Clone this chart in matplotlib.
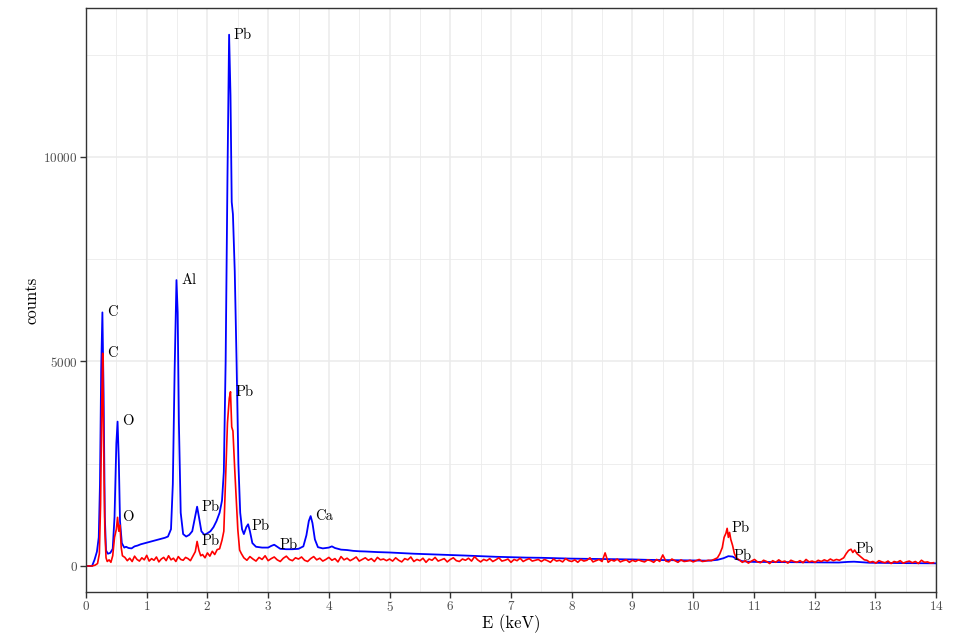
import numpy as np
import matplotlib
matplotlib.use("Agg")
import matplotlib.pyplot as plt
from matplotlib.ticker import MultipleLocator

# ---------------- data ----------------
# blue spectrum (energy keV, counts)
blue_E = [0.00, 0.10, 0.14, 0.18, 0.21, 0.23, 0.25, 0.27, 0.29, 0.31, 0.33, 0.36, 0.40,
          0.44, 0.47, 0.50, 0.52, 0.54, 0.56, 0.59, 0.63, 0.66, 0.70, 0.75, 0.80, 0.85,
          0.90, 0.95, 1.00, 1.05, 1.10, 1.15, 1.20, 1.25, 1.30, 1.35, 1.40, 1.43, 1.46,
          1.49, 1.51, 1.53, 1.56, 1.60, 1.65, 1.70, 1.75, 1.79, 1.83, 1.86, 1.90, 1.95,
          2.00, 2.05, 2.10, 2.15, 2.20, 2.24, 2.27, 2.30, 2.33, 2.357, 2.38, 2.40, 2.42,
          2.45, 2.48, 2.51, 2.54, 2.57, 2.60, 2.64, 2.67, 2.70, 2.74, 2.80, 2.90, 3.00,
          3.05, 3.10, 3.15, 3.20, 3.30, 3.40, 3.50, 3.58, 3.63, 3.67, 3.70, 3.73, 3.77,
          3.82, 3.90, 4.00, 4.05, 4.10, 4.20, 4.30, 4.40, 4.50, 4.60, 4.80, 5.00, 5.20,
          5.40, 5.60, 5.80, 6.00, 6.25, 6.50, 6.75, 7.00, 7.25, 7.50, 7.75, 8.00, 8.25,
          8.50, 8.75, 9.00, 9.25, 9.50, 9.75, 10.00, 10.25, 10.40, 10.50, 10.58, 10.65,
          10.72, 10.80, 10.90, 11.00, 11.50, 12.00, 12.40, 12.55, 12.65, 12.75, 12.90,
          13.50, 14.00]
blue_counts = [0, 0, 150, 350, 700, 2000, 4800, 6200, 4200, 1200, 380, 300, 320,
               420, 1200, 3000, 3530, 2600, 1100, 560, 450, 470, 440, 430, 480, 500,
               530, 550, 570, 590, 610, 630, 650, 670, 690, 720, 900, 2000, 4800,
               6990, 6200, 3500, 1300, 780, 720, 760, 850, 1150, 1450, 1200, 850, 760,
               800, 850, 950, 1100, 1300, 1600, 2300, 5000, 9500, 12990, 11500, 8900, 8600,
               7200, 5000, 2500, 1300, 900, 780, 950, 1020, 850, 560, 470, 450, 450,
               490, 520, 470, 420, 410, 410, 420, 480, 750, 1100, 1220, 1050, 650,
               460, 430, 450, 480, 440, 400, 390, 370, 360, 355, 340, 330, 315,
               300, 290, 280, 270, 255, 240, 225, 215, 205, 200, 190, 180, 175,
               170, 165, 160, 150, 145, 140, 135, 130, 150, 190, 240, 230,
               170, 120, 105, 100, 95, 90, 85, 100, 105, 95, 80,
               70, 65]

# red spectrum: peak regions as explicit (E, counts) pairs
red_peak1_E = [0.00, 0.10, 0.15, 0.19, 0.22, 0.24, 0.26, 0.275, 0.29, 0.31, 0.33, 0.35,
               0.38, 0.41, 0.44, 0.47, 0.50, 0.52, 0.54, 0.56, 0.58, 0.60]
red_peak1_counts = [0, 0, 20, 60, 300, 1500, 4000, 5200, 3000, 900, 200, 110,
                    150, 90, 250, 700, 900, 1190, 850, 1000, 450, 250]
# background 0.64 keV onwards, 0.04 keV channels
red_bg1_start, red_bg1_step = 0.64, 0.04
red_bg1_counts = [210, 130, 190, 110, 240, 160, 120, 200, 150, 260, 120, 180, 140, 220,
                  100, 170, 210, 130, 250, 150, 190, 110, 230, 160, 140, 210, 180, 130]
red_peak2_E = [1.80, 1.83, 1.86, 1.89]
red_peak2_counts = [350, 600, 380, 250]
red_bg2_start, red_bg2_step = 1.92, 0.04
red_bg2_counts = [280, 200, 320, 240, 360, 280, 400]
red_peak3_E = [2.20, 2.24, 2.27, 2.30, 2.33, 2.36, 2.38, 2.40, 2.42, 2.45, 2.48, 2.50,
               2.53, 2.56]
red_peak3_counts = [420, 630, 850, 2200, 3500, 4100, 4260, 3400, 3300, 2350, 1500, 900,
                    390, 300]
red_bg3_start, red_bg3_step = 2.60, 0.05
red_bg3_counts = [200, 140, 230, 170, 120, 210, 160, 250, 130, 180, 220, 150, 110, 190,
                  240, 160, 130, 200, 170, 220, 140, 110, 180, 230, 150, 190, 120, 160,
                  210, 140, 180, 100, 230, 150, 190, 130, 170, 220, 120, 160, 200, 140,
                  180, 110, 210, 150, 170, 130,
                  170, 120, 200, 140, 100, 180, 150, 220, 110, 160, 130, 190, 90, 170,
                  140, 210, 120, 150, 180, 100, 160, 200, 130, 110, 170, 140, 190, 120,
                  230, 150, 100, 160, 130, 180, 110, 150, 200, 120, 140, 170, 90, 160,
                  130, 190, 110, 150, 180, 120, 140, 160,
                  110, 160, 130, 90, 170, 120, 140, 100, 180, 130, 110, 150, 90, 160,
                  120, 140, 200, 100, 130, 160, 110, 320, 90, 150, 120, 170, 100, 130,
                  150, 90, 140, 110, 150, 120, 100, 150, 130, 90, 160, 110, 270, 120,
                  100, 170, 130, 90, 150, 110, 120, 140, 100, 130, 160, 110, 120, 140,
                  130]
red_peak4_E = [10.40, 10.44, 10.48, 10.51, 10.54, 10.56, 10.58, 10.60, 10.62, 10.65,
               10.68, 10.72]
red_peak4_counts = [200, 300, 450, 700, 800, 920, 700, 820, 650, 500, 300, 180]
red_bg4_start, red_bg4_step = 10.76, 0.05
red_bg4_counts = [150, 90, 130, 70, 120, 160, 100, 80, 140, 110, 60, 130, 90, 150, 100,
                  120, 70, 140, 110, 90, 130, 80, 160, 100, 120, 90, 140, 110, 150, 120,
                  170, 130, 160, 140]
red_peak5_E = [12.48, 12.52, 12.56, 12.60, 12.63, 12.66, 12.70, 12.74, 12.78, 12.82]
red_peak5_counts = [200, 300, 380, 410, 330, 390, 300, 250, 200, 150]
red_bg5_start, red_bg5_step = 12.86, 0.05
red_bg5_counts = [140, 90, 110, 70, 130, 100, 80, 120, 60, 110, 90, 130, 70, 100, 120,
                  80, 110, 60, 140, 90, 100, 70, 80]

# peak labels
blue_lab_E = [0.27, 0.52, 1.49, 1.83, 2.357, 2.65, 3.10, 3.70, 10.58]
blue_lab_counts = [6200, 3530, 6990, 1450, 12990, 980, 520, 1220, 230]
blue_lab_text = ["C", "O", "Al", "Pb", "Pb", "Pb", "Pb", "Ca", "Pb"]
red_lab_E = [0.275, 0.52, 1.83, 2.38, 10.56, 12.60]
red_lab_counts = [5200, 1190, 600, 4260, 920, 400]
red_lab_text = ["C", "O", "Pb", "Pb", "Pb", "Pb"]

# ---------------- assemble red ----------------
def channels(start, step, vals):
    return list(start + step * np.arange(len(vals)))

red_E = (red_peak1_E + channels(red_bg1_start, red_bg1_step, red_bg1_counts)
         + red_peak2_E + channels(red_bg2_start, red_bg2_step, red_bg2_counts)
         + red_peak3_E + channels(red_bg3_start, red_bg3_step, red_bg3_counts)
         + red_peak4_E + channels(red_bg4_start, red_bg4_step, red_bg4_counts)
         + red_peak5_E + channels(red_bg5_start, red_bg5_step, red_bg5_counts))
red_counts = (red_peak1_counts + red_bg1_counts + red_peak2_counts + red_bg2_counts
              + red_peak3_counts + red_bg3_counts + red_peak4_counts + red_bg4_counts
              + red_peak5_counts + red_bg5_counts)
order = np.argsort(red_E, kind="stable")
red_E = np.array(red_E)[order]
red_counts = np.array(red_counts)[order]

# ---------------- plot ----------------
plt.rcParams['font.family'] = ['cmr10', 'DejaVu Serif']
plt.rcParams['axes.formatter.use_mathtext'] = True

fig = plt.figure(figsize=(9.6, 6.4), dpi=100)
ax = fig.add_axes([86 / 960, 1 - 592 / 640, (936 - 86) / 960, (592 - 8) / 640])

grid_col = "#EBEBEB"
ax.set_xlim(0, 14)
ax.set_ylim(-636, 13643)
ax.xaxis.set_major_locator(MultipleLocator(1))
ax.xaxis.set_minor_locator(MultipleLocator(0.5))
ax.yaxis.set_major_locator(MultipleLocator(5000))
ax.yaxis.set_minor_locator(MultipleLocator(2500))
ax.grid(True, which="major", color=grid_col, linewidth=1.1)
ax.grid(True, which="minor", color=grid_col, linewidth=0.6)
ax.set_axisbelow(True)
ax.tick_params(which="minor", length=0)
ax.tick_params(which="major", length=4, width=1, color="#333333",
               labelsize=9.5, labelcolor="#4D4D4D", pad=2)
for s in ax.spines.values():
    s.set_color("#333333")
    s.set_linewidth(1.0)

ax.plot(blue_E, blue_counts, color="#0000FF", linewidth=1.3)
ax.plot(red_E, red_counts, color="#FF0000", linewidth=1.2)

dx = 0.08
for e, c, t in zip(blue_lab_E, blue_lab_counts, blue_lab_text):
    ax.text(e + dx, c, t, ha="left", va="center", fontsize=10.5, color="black")
for e, c, t in zip(red_lab_E, red_lab_counts, red_lab_text):
    ax.text(e + dx, c, t, ha="left", va="center", fontsize=10.5, color="black")

ax.set_xlabel("E (keV)", fontsize=12, labelpad=0)
ax.set_ylabel("counts", fontsize=12, labelpad=3)

fig.savefig("out.png", dpi=100)
